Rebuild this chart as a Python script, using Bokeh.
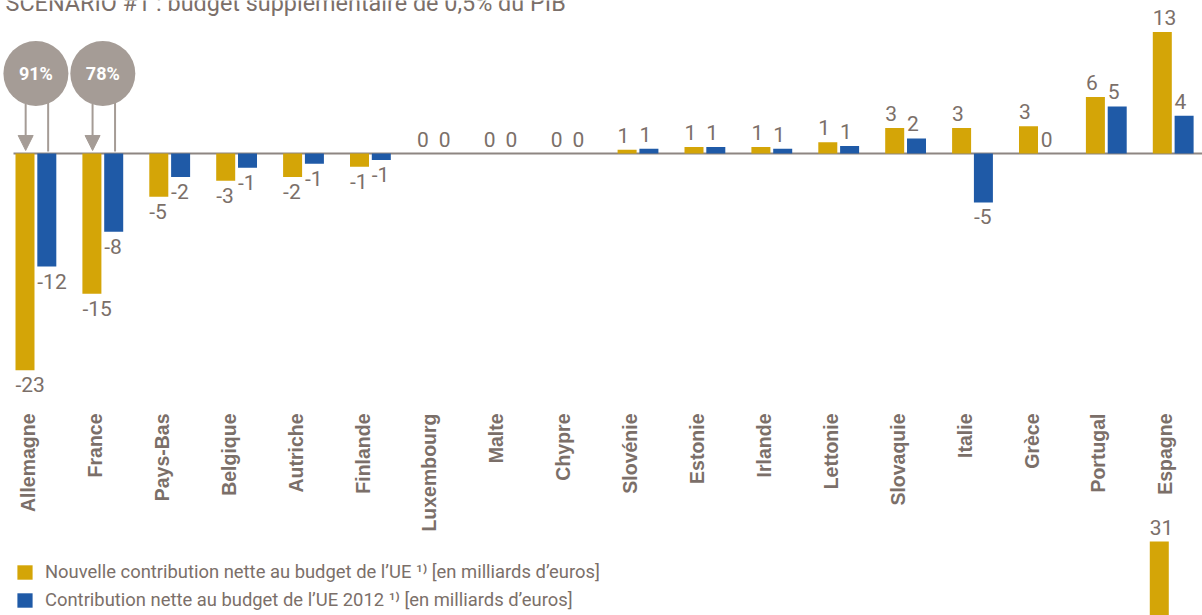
import math
from bokeh.plotting import figure
from bokeh.models import (Range1d, ColumnDataSource, FixedTicker, Legend, LegendItem,
                          Arrow, NormalHead, LinearAxis)
from bokeh.core.properties import value
from bokeh.embed import file_html
from bokeh.resources import INLINE

# ---------------- data ----------------
countries = ["Allemagne", "France", "Pays-Bas", "Belgique", "Autriche", "Finlande",
             "Luxembourg", "Malte", "Chypre", "Slovénie", "Estonie", "Irlande",
             "Lettonie", "Slovaquie", "Italie", "Grèce", "Portugal", "Espagne"]
new_contrib = [-23.0, -14.9, -4.6, -2.9, -2.5, -1.4, 0.0, 0.0, 0.0, 0.4, 0.7, 0.7,
               1.2, 2.7, 2.7, 2.9, 6.0, 12.9]
new_labels = [-23, -15, -5, -3, -2, -1, 0, 0, 0, 1, 1, 1, 1, 3, 3, 3, 6, 13]
old_contrib = [-12.0, -8.3, -2.5, -1.5, -1.1, -0.7, 0.0, 0.0, 0.0, 0.5, 0.7, 0.5,
               0.8, 1.6, -5.2, 0.0, 5.0, 4.0]
old_labels = [-12, -8, -2, -1, -1, -1, 0, 0, 0, 1, 1, 1, 1, 2, -5, 0, 5, 4]
bubble_countries = ["Allemagne", "France"]
bubble_texts = ["91%", "78%"]
next_country = "Espagne"
next_value = 31
title_text = "SCENARIO #1 : budget supplémentaire de 0,5% du PIB"
legend_new = "Nouvelle contribution nette au budget de l’UE ¹⁾ [en milliards d’euros]"
legend_old = "Contribution nette au budget de l’UE 2012 ¹⁾ [en milliards d’euros]"

# ---------------- styles / geometry ----------------
YELLOW = "#D4A507"
BLUE = "#1F5AA7"
GREY_TXT = "#7B6F69"
GREY_BUB = "#A59C96"
GREY_LINE = "#8E8682"
FONT = "Roboto"

W, H = 1202, 615
PX = 66.9          # pixels per country
PY = 9.42          # pixels per milliard
BASE = 153         # baseline, pixels from top of figure
YC_OFF = -0.045    # yellow bar centre relative to tick
BL_OFF = YC_OFF + 0.326
BW = 0.284

x_start = YC_OFF - 24.5 / PX
x_range = Range1d(x_start, x_start + W / PX)
y_range = Range1d(-(H - BASE) / PY, BASE / PY)

p = figure(width=W, height=H, x_range=x_range, y_range=y_range,
           output_backend="svg", toolbar_location=None, min_border=0,
           x_axis_location=None, y_axis_location=None,
           outline_line_color=None, background_fill_color="white")
p.grid.visible = False

idx = list(range(len(countries)))

src = ColumnDataSource(dict(
    xn=[i + YC_OFF for i in idx], xo=[i + BL_OFF for i in idx],
    new=new_contrib, old=old_contrib,
    new_lab=[str(v) for v in new_labels], old_lab=[str(v) for v in old_labels],
    xn_l=[i + YC_OFF - BW / 2 for i in idx], xo_l=[i + BL_OFF - BW / 2 for i in idx],
    new_off=[-14.5 if v >= 0 else 14.5 for v in new_labels],
    old_off=[-14.5 if v >= 0 else 14.5 for v in old_labels],
))

# baseline
p.segment(x0=[x_start + 13 / PX], y0=[0], x1=[x_start + W / PX], y1=[0],
          line_color=GREY_LINE, line_width=2)

r_new = p.vbar(x="xn", top="new", bottom=0, width=BW, source=src,
               fill_color=YELLOW, line_color=None)
r_old = p.vbar(x="xo", top="old", bottom=0, width=BW, source=src,
               fill_color=BLUE, line_color=None)

lab_kw = dict(text_font=value(FONT), text_font_size="21px", text_color=GREY_TXT,
              text_align="left", text_baseline="middle")
p.text(x="xn_l", y="new", text="new_lab", y_offset="new_off", source=src, **lab_kw)
p.text(x="xo_l", y="old", text="old_lab", y_offset="old_off", source=src, **lab_kw)

# bubbles with arrows
BUB_Y_PX = 80      # bubble centre above baseline (px)
BUB_R = 32.5
bub_y = BUB_Y_PX / PY
bi = [countries.index(c) for c in bubble_countries]
bub_x = [i + (YC_OFF + BL_OFF) / 2 for i in bi]
p.segment(x0=[i + BL_OFF + 0.02 for i in bi], y0=[bub_y] * len(bi),
          x1=[i + BL_OFF + 0.02 for i in bi], y1=[0.2] * len(bi),
          line_color=GREY_BUB, line_width=2)
p.scatter(x=bub_x, y=[bub_y] * len(bi), size=2 * BUB_R, marker="circle",
          fill_color=GREY_BUB, line_color=None)
p.text(x=bub_x, y=[bub_y] * len(bi), text=bubble_texts, text_color="white",
       text_font=value(FONT), text_font_style="bold",
       text_font_size="18px", text_align="center", text_baseline="middle")
dx = (BL_OFF - YC_OFF) / 2 * PX
edge = bub_y - (BUB_R ** 2 - dx ** 2) ** 0.5 / PY
for i in bi:
    p.add_layout(Arrow(x_start=i + YC_OFF + 0.01, y_start=edge,
                       x_end=i + YC_OFF + 0.01, y_end=0.32,
                       line_color=GREY_BUB, line_width=2,
                       end=NormalHead(size=15, fill_color=GREY_BUB, line_color=GREY_BUB)))

# country labels on an axis fixed inside the plot
xaxis = LinearAxis(ticker=FixedTicker(ticks=idx),
                   major_label_overrides={i: c for i, c in zip(idx, countries)},
                   fixed_location=-(413 - BASE) / PY,
                   major_label_orientation=math.pi / 2,
                   major_label_standoff=0, major_tick_in=0, major_tick_out=0,
                   axis_line_color=None, minor_tick_line_color=None,
                   major_label_text_font="Liberation Sans",
                   major_label_text_font_style="bold",
                   major_label_text_font_size="19.5px",
                   major_label_text_color=GREY_TXT)
p.add_layout(xaxis, "below")

# next scenario bar (clipped at the bottom)
NEXT_TOP = 541
NEXT_BASE = NEXT_TOP + next_value * PY
p.extra_y_ranges = {"next": Range1d((NEXT_BASE - H) / PY, NEXT_BASE / PY)}
ni = countries.index(next_country)
p.vbar(x=[ni + YC_OFF - 0.045], top=[next_value], bottom=0, width=BW,
       fill_color=YELLOW, line_color=None, y_range_name="next")
p.text(x=[ni + YC_OFF - 0.045 - BW / 2], y=[next_value], text=[str(next_value)],
       y_offset=-14.5, y_range_name="next", **lab_kw)

# title (cut at the top in the original)
p.text(x=[x_start + 5 / PX], y=[(BASE - 2) / PY], text=[title_text],
       text_font=value(FONT), text_font_size="23.4px",
       text_color=GREY_TXT, text_align="left", text_baseline="middle")

legend = Legend(items=[LegendItem(label=legend_new, renderers=[r_new]),
                       LegendItem(label=legend_old, renderers=[r_old])],
                location=(15, 5), orientation="vertical",
                glyph_width=19, glyph_height=18, label_height=18, spacing=7,
                label_standoff=11, padding=0, margin=0,
                border_line_color=None, background_fill_alpha=0,
                label_text_font=FONT, label_text_font_size="18.4px",
                label_text_color=GREY_TXT, label_text_baseline="middle")
p.add_layout(legend, "center")

open("out.html", "w").write(file_html(p, INLINE))
